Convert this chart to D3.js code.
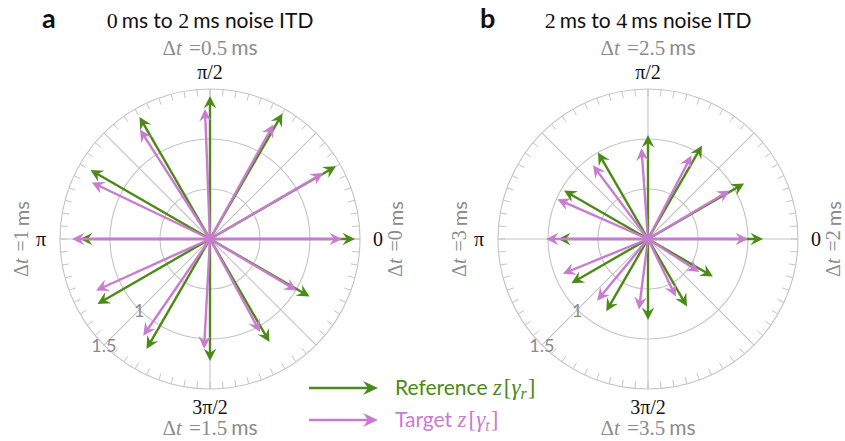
<!DOCTYPE html>
<html>
<head>
<meta charset="UTF-8">
<script src="https://d3js.org/d3.v7.min.js"></script>
<style>
  body { margin: 0; background: #fff; }
  svg { display: block; }
</style>
</head>
<body>
<svg id="chart" width="845" height="441"></svg>
<script>
// phase angles (deg) of the reference vectors, same for both panels
const refAngles = [0, 30, 60, 90, 120, 150, 180, 210, 240, 270, 300, 330];

// panel a: 0 ms to 2 ms
const refLenA = [1.45, 1.455, 1.45, 1.43, 1.41, 1.38, 1.30, 1.30, 1.27, 1.22, 1.19, 1.15];
const tgtAngA = [0, 30.2, 61, 92.2, 122.6, 154.4, 180, 204.3, 235.4, 266.9, 298.3, 329.3];
const tgtLenA = [1.32, 1.31, 1.31, 1.30, 1.30, 1.31, 1.38, 1.25, 1.175, 1.10, 1.056, 1.008];

// panel b: 2 ms to 4 ms
const refLenB = [1.15, 1.11, 1.08, 1.04, 1.00, 0.97, 0.90, 0.885, 0.835, 0.81, 0.78, 0.75];
const tgtAngB = [0, 30.7, 62.5, 94.1, 126.8, 156.3, 180, 202.2, 230.5, 262.7, 295.8, 327.3];
const tgtLenB = [1.00, 0.95, 0.94, 0.91, 0.92, 0.99, 1.02, 0.92, 0.80, 0.71, 0.64, 0.61];

const rings = [0.5, 1.0, 1.5];
const ringLabels = ["1", "1.5"];
const spokes = [0, 45, 90, 135, 180, 225, 270, 315];

const panels = [
  { letter: "a", from: "0", to: "2", dt: ["0", "0.5", "1", "1.5"], cx: 210, refLen: refLenA, tgtAng: tgtAngA, tgtLen: tgtLenA },
  { letter: "b", from: "2", to: "4", dt: ["2", "2.5", "3", "3.5"], cx: 648, refLen: refLenB, tgtAng: tgtAngB, tgtLen: tgtLenB }
];

const SANS = "Lato";
const SERIF = "Liberation Serif";
const green = "#4b8a16";
const purple = "#c97bd0";
const grid = "#c4c4c4";
const gray = "#8c8c8c";
const cy = 239;

const svg = d3.select("#chart");
const r = d3.scaleLinear().domain([0, 1.5]).range([0, 150]);

function pt(cx, deg, rad) {
  const a = deg * Math.PI / 180;
  return [cx + rad * Math.cos(a), cy - rad * Math.sin(a)];
}

function arrow(g, cx, deg, len, color) {
  const tip = r(len);
  const a = deg * Math.PI / 180;
  const ux = Math.cos(a), uy = -Math.sin(a);
  const [tx, ty] = pt(cx, deg, tip);
  const [lx, ly] = pt(cx, deg, tip - 6);
  g.append("line")
    .attr("x1", cx).attr("y1", cy).attr("x2", lx).attr("y2", ly)
    .attr("stroke", color).attr("stroke-width", 2.4);
  const hl = 12.5, hw = 6.3, notch = 8;
  const bx = tx - ux * hl, by = ty - uy * hl;
  const nx = tx - ux * notch, ny = ty - uy * notch;
  g.append("path")
    .attr("d", `M${tx},${ty}L${bx - uy * hw},${by + ux * hw}L${nx},${ny}L${bx + uy * hw},${by - ux * hw}Z`)
    .attr("fill", color);
}

function span(sel, txt, fam, italic) {
  const s = sel.append("tspan").attr("font-family", fam).text(txt);
  if (italic) s.attr("font-style", "italic");
  return s;
}

function dtLabel(sel, val) {
  span(sel, "Δ", SERIF);
  span(sel, "t", SERIF, true);
  span(sel, " =" + val, SERIF).attr("dx", 2);
  span(sel, "ms", SANS).attr("dx", 4);
}

panels.forEach(p => {
  const cx = p.cx;
  const g = svg.append("g");

  // rings
  g.selectAll(".ring").data(rings).enter().append("circle")
    .attr("cx", cx).attr("cy", cy).attr("r", d => r(d))
    .attr("fill", "none").attr("stroke", grid).attr("stroke-width", 1.1);

  // spokes
  g.selectAll(".spoke").data(spokes).enter().append("line")
    .attr("x1", cx).attr("y1", cy)
    .attr("x2", d => pt(cx, d, r(1.5))[0]).attr("y2", d => pt(cx, d, r(1.5))[1])
    .attr("stroke", grid).attr("stroke-width", 1.1);

  // minor ticks every 5 degrees
  g.selectAll(".tick").data(d3.range(0, 360, 5)).enter().append("line")
    .attr("x1", d => pt(cx, d, r(1.5))[0]).attr("y1", d => pt(cx, d, r(1.5))[1])
    .attr("x2", d => pt(cx, d, r(1.5) - 7)[0]).attr("y2", d => pt(cx, d, r(1.5) - 7)[1])
    .attr("stroke", grid).attr("stroke-width", 1);

  // radial labels along 225 deg
  g.selectAll(".rl").data(ringLabels).enter().append("text")
    .attr("font-family", SANS)
    .attr("x", (d, i) => pt(cx, 225, r(rings[i + 1]))[0])
    .attr("y", (d, i) => pt(cx, 225, r(rings[i + 1]))[1])
    .attr("text-anchor", "middle").attr("dominant-baseline", "central")
    .attr("font-size", 18).attr("fill", gray)
    .text(d => d);

  // arrows: reference first, target on top
  refAngles.forEach((a, i) => arrow(g, cx, a, p.refLen[i], green));
  p.tgtAng.forEach((a, i) => arrow(g, cx, a, p.tgtLen[i], purple));

  // angular labels
  const serifLbl = (x, y, txt) => g.append("text").attr("font-family", SERIF)
    .attr("x", x).attr("y", y).attr("text-anchor", "middle")
    .attr("dominant-baseline", "central").attr("font-size", 20).attr("fill", "#111").text(txt);
  serifLbl(cx + 168, cy, "0");
  serifLbl(cx - 169, cy, "π");
  serifLbl(cx, 72, "π/2");
  serifLbl(cx, 407, "3π/2");

  // delta t labels
  const mk = () => g.append("text").attr("text-anchor", "middle")
    .attr("font-size", 21).attr("fill", gray);
  const top = mk().attr("x", cx).attr("y", 55);
  dtLabel(top, p.dt[1]);
  const bot = mk().attr("x", cx).attr("y", 435);
  dtLabel(bot, p.dt[3]);
  const right = mk().attr("font-size", 20).attr("dominant-baseline", "central")
    .attr("transform", `translate(${cx + 185},${cy}) rotate(-90)`);
  dtLabel(right, p.dt[0]);
  const left = mk().attr("font-size", 20).attr("dominant-baseline", "central")
    .attr("transform", `translate(${cx - 189},${cy}) rotate(-90)`);
  dtLabel(left, p.dt[2]);

  // panel letter and title
  svg.append("text").attr("font-family", SANS).attr("x", cx - 168).attr("y", 28)
    .attr("font-size", 27).attr("font-weight", "bold").attr("fill", "#111").text(p.letter);
  const title = svg.append("text").attr("x", cx).attr("y", 28).attr("text-anchor", "middle")
    .attr("font-size", 21).attr("fill", "#111");
  span(title, p.from, SERIF).attr("font-size", 22);
  span(title, "ms to ", SANS).attr("dx", 4);
  span(title, p.to, SERIF).attr("font-size", 22);
  span(title, "ms noise ITD", SANS).attr("dx", 4);
});

// legend
const legend = [
  { label: "Reference ", sub: "r", color: green },
  { label: "Target ", sub: "t", color: purple }
];
const lg = svg.append("g");
legend.forEach((d, i) => {
  const y = 388 + i * 32;
  const x0 = 309, x1 = 378;
  lg.append("line").attr("x1", x0).attr("y1", y).attr("x2", x1 - 6).attr("y2", y)
    .attr("stroke", d.color).attr("stroke-width", 2.6);
  lg.append("path")
    .attr("d", `M${x1},${y}L${x1 - 15},${y - 7}L${x1 - 10},${y}L${x1 - 15},${y + 7}Z`)
    .attr("fill", d.color);
  const t = lg.append("text").attr("x", 395).attr("y", y + 7)
    .attr("font-size", 21).attr("fill", d.color);
  span(t, d.label, SANS);
  span(t, "z", SERIF, true).attr("font-size", 23);
  span(t, "[", SERIF).attr("dx", 2).attr("font-size", 23);
  span(t, "γ", SERIF, true).attr("font-size", 23);
  span(t, d.sub, SERIF, true).attr("font-size", 16).attr("dy", 4);
  span(t, "]", SERIF).attr("dy", -4).attr("dx", 1).attr("font-size", 23);
});
</script>
</body>
</html>
